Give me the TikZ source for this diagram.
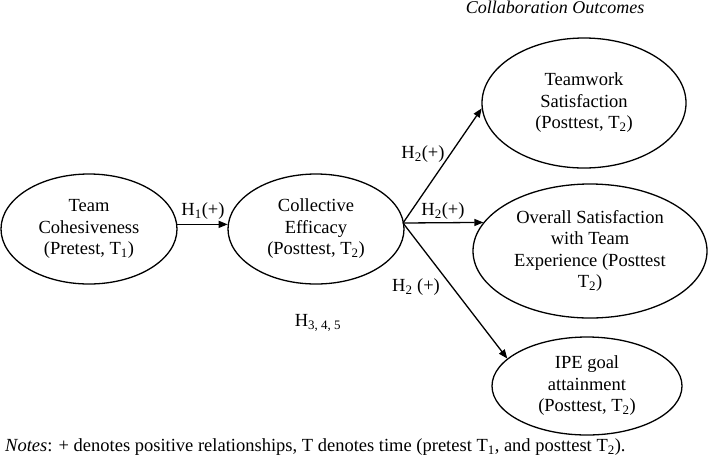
\documentclass[tikz,border=0pt]{standalone}
\usepackage{fontspec}
\setmainfont{Liberation Serif}
\usetikzlibrary{shapes.geometric,arrows.meta}
\begin{document}
\begin{tikzpicture}[x=1pt,y=-1pt,
  every node/.style={font=\fontsize{18.5}{21.5}\selectfont},
  var/.style={ellipse,draw,line width=1.3pt,inner sep=0pt,align=center},
  arr/.style={line width=1.3pt,-{Triangle[length=9pt,width=7pt]}},
  lab/.style={inner sep=0pt}]
\useasboundingbox (0,0) rectangle (708,459);
\node[var,minimum width=176,minimum height=110] (tc) at (89,229) {Team\\Cohesiveness\\(Pretest, T\textsubscript{1})};
\node[var,minimum width=176,minimum height=110] (ce) at (316,229) {Collective\\Efficacy\\(Posttest, T\textsubscript{2})};
\node[var,minimum width=204,minimum height=130] (ts) at (584,103) {Teamwork\\Satisfaction\\(Posttest, T\textsubscript{2})};
\node[var,minimum width=234,minimum height=134] (ov) at (590,251) {Overall Satisfaction\\with Team\\Experience (Posttest\\T\textsubscript{2})};
\node[var,minimum width=190,minimum height=98] (ipe) at (587,386) {IPE goal\\attainment\\(Posttest, T\textsubscript{2})};
\coordinate (src) at (403,223);
\draw[arr] (tc.3) -- (ce.177);
\draw[arr] (src) -- (ts.183);
\draw[arr] (src) -- (ov.165);
\draw[arr] (src) -- (ipe.161);
\node[lab] (h1) at (203,211) {H\textsubscript{1}(+)};
\node[lab] (h2a) at (423,154) {H\textsubscript{2}(+)};
\node[lab] (h2b) at (443,211) {H\textsubscript{2}(+)};
\node[lab] (h2c) at (416,287) {H\textsubscript{2} (+)};
\node[lab] (h345) at (318,323) {H\textsubscript{3, 4, 5}};
\node[lab,font=\fontsize{18}{21.5}\selectfont\itshape] (title) at (555,7) {Collaboration Outcomes};
\node[lab,anchor=west] (notes) at (5,447) {\textit{Notes}: + denotes positive relationships, T denotes time (pretest T\textsubscript{1}, and posttest T\textsubscript{2}).};
\end{tikzpicture}
\end{document}
